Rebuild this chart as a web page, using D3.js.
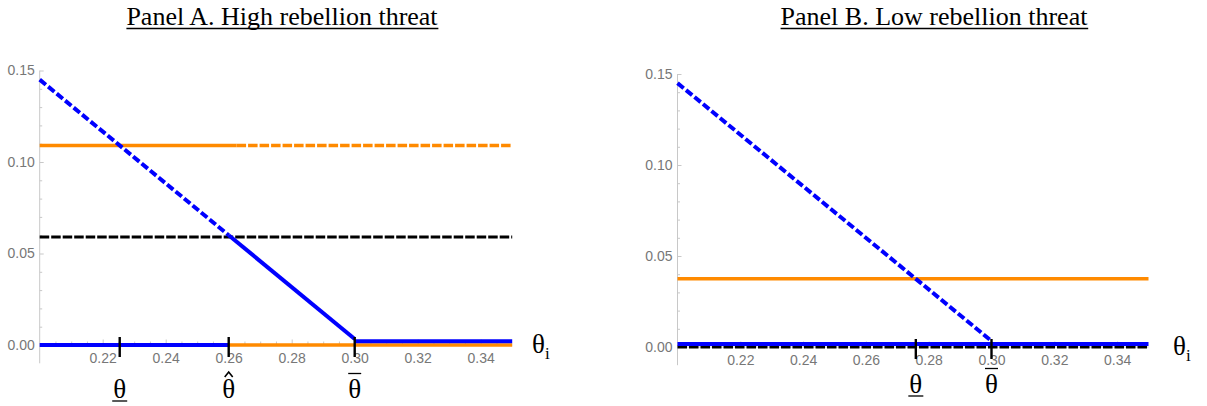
<!DOCTYPE html>
<html>
<head>
<meta charset="utf-8">
<script src="https://cdn.jsdelivr.net/npm/d3@7/dist/d3.min.js"></script>
<style>
html,body{margin:0;padding:0;background:#fff;}
svg{display:block;}
</style>
</head>
<body>
<script>
// ---------- data ----------
const xDomain = [0.2, 0.35];
const yDomain = [0, 0.15];
const xTickValues = [0.22, 0.24, 0.26, 0.28, 0.30, 0.32, 0.34];
const xTickLabels = ["0.22", "0.24", "0.26", "0.28", "0.30", "0.32", "0.34"];
const yTickValues = [0, 0.05, 0.10, 0.15];
const yTickLabels = ["0.00", "0.05", "0.10", "0.15"];
const titles = ["Panel A. High rebellion threat", "Panel B. Low rebellion threat"];

// Panel A series
const aBlueDashed = [[0.2, 0.145], [0.26, 0.06]];
const aBlueSolid = [[0.26, 0.06], [0.30, 0.0033]];
const aBlueFlat = [[0.30, 0.002], [0.35, 0.002]];
const aBlueZero = [[0.2, 0], [0.26, 0]];
const aOrangeSolid = [[0.2, 0.109], [0.2625, 0.109]];
const aOrangeDashed = [[0.2625, 0.109], [0.35, 0.109]];
const aOrangeZero = [[0.26, 0], [0.35, 0]];
const aBlackDashed = [[0.2, 0.059], [0.35, 0.059]];
const aMarkers = [0.2254, 0.26, 0.30];
const aMarkerLabels = ["under", "hat", "bar"];

// Panel B series
const bBlueDashed = [[0.2, 0.145], [0.30, 0.0033]];
const bBlueFlat = [[0.2, 0.0016], [0.35, 0.0016]];
const bOrange = [[0.2, 0.0375], [0.35, 0.0375]];
const bBlackDashed = [[0.2, 0], [0.35, 0]];
const bMarkers = [0.2759, 0.30];
const bMarkerLabels = ["under", "bar"];

// ---------- drawing ----------
const W = 1207, H = 406;
const svg = d3.select("body").append("svg").attr("width", W).attr("height", H);

const BLUE = "#0000ff", ORANGE = "#ff8a00", BLACK = "#000";
const SERIF = "'Liberation Serif','Times New Roman',serif";
const SANS = "'Liberation Sans',Arial,sans-serif";

function panel(cfg) {
  const x = d3.scaleLinear().domain(xDomain).range(cfg.xr);
  const y = d3.scaleLinear().domain(yDomain).range(cfg.yr);
  const g = svg.append("g");

  // title
  const t = g.append("text")
    .attr("x", cfg.titleX).attr("y", cfg.titleY)
    .attr("text-anchor", "middle")
    .style("font-family", SERIF).style("font-size", "26px").attr("fill", "#000")
    .text(cfg.title);
  const bb = t.node().getBBox();
  g.append("line").attr("x1", bb.x).attr("x2", bb.x + bb.width)
    .attr("y1", cfg.titleY + 3.5).attr("y2", cfg.titleY + 3.5)
    .attr("stroke", "#000").attr("stroke-width", 1.3);

  // y axis line
  g.append("line").attr("x1", x(0.2)).attr("x2", x(0.2))
    .attr("y1", y(-0.01)).attr("y2", y(0.15))
    .attr("stroke", "#c8c8c8").attr("stroke-width", 1);
  // x axis line
  g.append("line").attr("x1", x(0.2)).attr("x2", x(0.35))
    .attr("y1", y(0)).attr("y2", y(0))
    .attr("stroke", "#c8c8c8").attr("stroke-width", 1);

  // y minor ticks
  const yMinor = d3.range(1, 15).map(i => i / 100).filter(v => Math.abs(v * 20 - Math.round(v * 20)) > 1e-6);
  const yMinorAxis = d3.axisLeft(y).tickValues(yMinor).tickSizeInner(-2.5).tickSizeOuter(0).tickFormat("");
  const gym = g.append("g").attr("transform", `translate(${x(0.2)},0)`).call(yMinorAxis);
  gym.select(".domain").remove();
  gym.selectAll("line").attr("stroke", "#c8c8c8");

  // y major ticks
  const yAxis = d3.axisLeft(y).tickValues(yTickValues).tickSizeInner(-4).tickSizeOuter(0).tickPadding(5)
    .tickFormat((d, i) => yTickLabels[i]);
  const gy = g.append("g").attr("transform", `translate(${x(0.2)},0)`).call(yAxis);
  gy.select(".domain").remove();
  gy.selectAll("line").attr("stroke", "#c8c8c8");
  gy.selectAll("text").style("font-family", SANS).style("font-size", "14px").attr("fill", "#777");

  // x minor ticks
  const xMinor = d3.range(41, 70).map(i => i * 0.005).filter(v => Math.abs(v * 50 - Math.round(v * 50)) > 1e-6);
  const xMinorAxis = d3.axisBottom(x).tickValues(xMinor).tickSizeInner(-3.5).tickSizeOuter(0).tickFormat("");
  const gxm = g.append("g").attr("transform", `translate(0,${y(0)})`).call(xMinorAxis);
  gxm.select(".domain").remove();
  gxm.selectAll("line").attr("stroke", "#c8c8c8");

  const xAxis = d3.axisBottom(x).tickValues(xTickValues).tickSizeInner(-5.5).tickSizeOuter(0).tickPadding(8)
    .tickFormat((d, i) => xTickLabels[i]);
  const gx = g.append("g").attr("transform", `translate(0,${y(0)})`).call(xAxis);
  gx.select(".domain").remove();
  gx.selectAll("line").attr("stroke", "#c8c8c8");
  gx.selectAll("text").style("font-family", SANS).style("font-size", "14px").attr("fill", "#777");

  const line = d3.line().x(d => x(d[0])).y(d => y(d[1]));
  function draw(data, color, width, dash) {
    g.append("path").attr("d", line(data)).attr("fill", "none")
      .attr("stroke", color).attr("stroke-width", width)
      .attr("stroke-dasharray", dash || null);
  }
  cfg.series.forEach(s => draw(s[0], s[1], s[2], s[3]));

  // markers
  cfg.markers.forEach((m, i) => {
    g.append("line").attr("x1", x(m)).attr("x2", x(m))
      .attr("y1", y(0) - 8).attr("y2", y(0) + 12)
      .attr("stroke", "#000").attr("stroke-width", 2.4);
    const cx = x(m);
    const by = cfg.labelBase;
    g.append("text").attr("x", cx).attr("y", by).attr("text-anchor", "middle")
      .style("font-family", SERIF).style("font-size", "27px").attr("fill", "#000").text("θ");
    const kind = cfg.markerLabels[i];
    if (kind === "under") {
      g.append("line").attr("x1", cx - 7.5).attr("x2", cx + 7.5)
        .attr("y1", by + 3).attr("y2", by + 3).attr("stroke", "#000").attr("stroke-width", 1.3);
    } else if (kind === "bar") {
      g.append("line").attr("x1", cx - 6.5).attr("x2", cx + 6.5)
        .attr("y1", by - 24.5).attr("y2", by - 24.5).attr("stroke", "#000").attr("stroke-width", 1.3);
    } else if (kind === "hat") {
      g.append("path").attr("d", `M${cx - 4},${by - 21} L${cx},${by - 26} L${cx + 4},${by - 21}`)
        .attr("fill", "none").attr("stroke", "#000").attr("stroke-width", 1.6);
    }
  });

  // theta_i label
  const tl = g.append("text").attr("x", cfg.thetaIX).attr("y", y(0) + 8)
    .style("font-family", SERIF).style("font-size", "27px").attr("fill", "#000");
  tl.append("tspan").text("θ");
  tl.append("tspan").attr("dy", 6).style("font-size", "17px").text("i");
}

panel({
  xr: [39.7, 512.2], yr: [345, 70.5],
  title: titles[0], titleX: 282, titleY: 25,
  series: [
    [aOrangeZero, ORANGE, 3.5],
    [aBlackDashed, BLACK, 3, "9.5,2"],
    [aOrangeSolid, ORANGE, 3.5],
    [aOrangeDashed, ORANGE, 3.5, "9.5,2"],
    [aBlueZero, BLUE, 4],
    [aBlueFlat, BLUE, 4],
    [aBlueSolid, BLUE, 4],
    [aBlueDashed, BLUE, 4, "8,3"]
  ],
  markers: aMarkers, markerLabels: aMarkerLabels, labelBase: 398, thetaIX: 532
});

panel({
  xr: [677.5, 1148.5], yr: [347, 74],
  title: titles[1], titleX: 934, titleY: 25,
  series: [
    [bBlackDashed, BLACK, 3, "9.5,2"],
    [bOrange, ORANGE, 3.5],
    [bBlueFlat, BLUE, 4],
    [bBlueDashed, BLUE, 4, "8,3"]
  ],
  markers: bMarkers, markerLabels: bMarkerLabels, labelBase: 393, thetaIX: 1173
});
</script>
</body>
</html>
